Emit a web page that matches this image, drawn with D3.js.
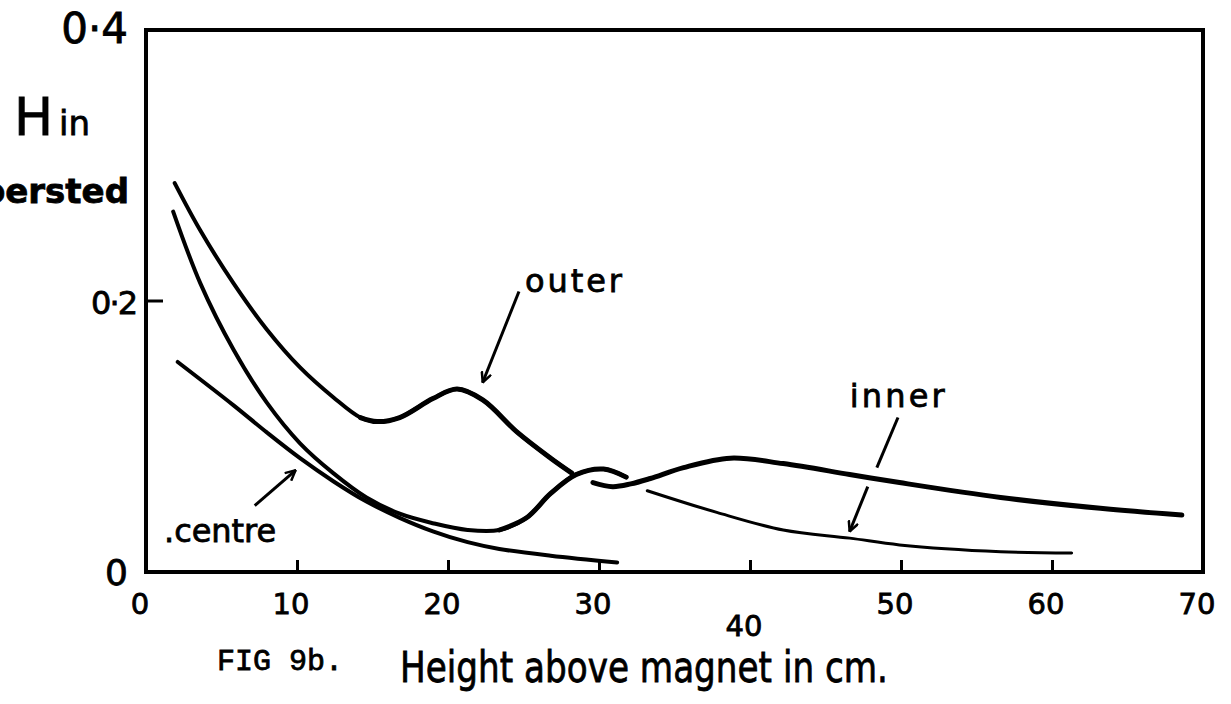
<!DOCTYPE html>
<html>
<head>
<meta charset="utf-8">
<script src="https://cdn.jsdelivr.net/npm/d3@7"></script>
<style>
  body { margin: 0; background: #fff; }
  text { font-family: 'DejaVu Sans', sans-serif; fill: #000; stroke: #000; stroke-width: 0.8px; }
</style>
</head>
<body>
<svg id="chart" width="1231" height="704"></svg>
<script>
// values (x in cm, H in oersted)
const outerX = [1.9, 3.6, 5.8, 8.0, 10.2, 12.4, 14.2, 15.3, 16.8, 19.0, 20.6, 22.3, 24.6, 26.8, 28.2];
const outerH = [0.287, 0.252, 0.213, 0.179, 0.151, 0.129, 0.114, 0.111, 0.114, 0.128, 0.135, 0.127, 0.103, 0.084, 0.073];
const outerTailX = [29.6, 30.9, 32.1, 33.4, 35.6, 38.7, 42.2, 46.6, 49.9, 56.6, 63.2, 68.6];
const outerTailH = [0.066, 0.063, 0.065, 0.069, 0.077, 0.084, 0.080, 0.072, 0.066, 0.055, 0.047, 0.042];
const innerX = [1.8, 3.6, 5.8, 8.0, 10.2, 12.4, 14.6, 16.8, 19.0, 21.3, 23.4, 25.2, 26.8, 28.5, 30.3, 31.8];
const innerH = [0.266, 0.213, 0.164, 0.125, 0.095, 0.073, 0.055, 0.043, 0.036, 0.031, 0.031, 0.040, 0.058, 0.072, 0.076, 0.070];
const innerTailX = [33.2, 37.8, 42.2, 46.6, 49.9, 56.6, 61.3];
const innerTailH = [0.060, 0.044, 0.031, 0.025, 0.020, 0.015, 0.014];
const centreX = [2.1, 5.8, 8.0, 10.2, 12.4, 14.6, 16.8, 19.0, 21.3, 23.4, 26.8, 31.2];
const centreH = [0.155, 0.123, 0.103, 0.084, 0.067, 0.052, 0.040, 0.030, 0.022, 0.017, 0.012, 0.007];

const xTicks = [0, 10, 20, 30, 40, 50, 60, 70];
const yTicks = [0, 0.2, 0.4];
const yTickText = ['0', '0·2', '0·4'];

const svg = d3.select('#chart'),
  x = d3.scaleLinear().domain([0, 70]).range([146, 1203]),
  y = d3.scaleLinear().domain([0, 0.4]).range([572, 30]);

const zip = (xs, hs) => xs.map((v, i) => [v, hs[i]]);
const line = d3.line().x(d => x(d[0])).y(d => y(d[1])).curve(d3.curveCatmullRom.alpha(0.5));

svg.append('defs').append('marker')
  .attr('id', 'arrow')
  .attr('viewBox', '0 0 12 12')
  .attr('refX', 11).attr('refY', 6)
  .attr('markerWidth', 12).attr('markerHeight', 12)
  .attr('markerUnits', 'userSpaceOnUse')
  .attr('orient', 'auto')
  .append('path')
  .attr('d', 'M1,1 L11,6 L1,11')
  .attr('fill', 'none').attr('stroke', '#000').attr('stroke-width', 2.5);

// frame
svg.append('rect')
  .attr('x', x(0)).attr('y', y(0.4))
  .attr('width', x(70) - x(0)).attr('height', y(0) - y(0.4))
  .attr('fill', 'none').attr('stroke', '#000').attr('stroke-width', 4);

// ticks pointing inward
svg.append('g')
  .attr('transform', `translate(0,${y(0)})`)
  .call(d3.axisBottom(x).tickValues([10, 20, 30, 40, 50, 60]).tickSize(-12).tickFormat(''))
  .call(g => g.select('.domain').remove())
  .selectAll('line').attr('stroke-width', 3);
svg.append('line')
  .attr('x1', x(0)).attr('x2', x(0) + 17)
  .attr('y1', y(0.2)).attr('y2', y(0.2))
  .attr('stroke', '#000').attr('stroke-width', 3);

// tick labels
svg.selectAll('.xlab').data(xTicks).enter().append('text')
  .attr('class', 'xlab')
  .attr('x', d => x(d) - 6)
  .attr('y', d => (d === 40 ? 636 : 614))
  .attr('text-anchor', 'middle')
  .style('font-size', '29px')
  .text(d => d);
svg.selectAll('.ylab').data(yTicks).enter().append('text')
  .attr('class', 'ylab')
  .attr('x', d => (d === 0.2 ? 136 : 128))
  .attr('y', d => y(d) + 13)
  .attr('text-anchor', 'end')
  .style('font-size', d => (d === 0.4 ? '42px' : d === 0.2 ? '32px' : '36px'))
  .style('letter-spacing', d => (d === 0.2 ? '-2px' : '0px'))
  .text((d, i) => yTickText[i]);

// axis titles
let ht = svg.append('text').attr('x', 14).attr('y', 135);
ht.append('tspan').style('font-size', '52px').text('H');
ht.append('tspan').attr('dx', 6).style('font-size', '34px').text('in');
svg.append('text')
  .attr('x', 129).attr('y', 203).attr('text-anchor', 'end')
  .style('font-size', '34px').style('font-weight', 'bold')
  .text('oersted');
svg.append('text')
  .attr('x', 400).attr('y', 682)
  .attr('textLength', 488).attr('lengthAdjust', 'spacingAndGlyphs')
  .style('font-size', '42px')
  .text('Height above magnet in cm.');
svg.append('text')
  .attr('x', 217).attr('y', 670)
  .attr('textLength', 126).attr('lengthAdjust', 'spacingAndGlyphs')
  .style('font-family', "'Liberation Mono', monospace")
  .style('font-size', '30px')
  .text('FIG 9b.');

// curves
const curves = [
  { pts: zip(outerX, outerH), w: 4 },
  { pts: zip(outerX, outerH).filter(d => d[0] >= 14.2), w: 5 },
  { pts: zip(outerTailX, outerTailH), w: 5 },
  { pts: zip(innerX, innerH), w: 4 },
  { pts: zip(innerX, innerH).filter(d => d[0] >= 23.4), w: 5 },
  { pts: zip(innerTailX, innerTailH), w: 3 },
  { pts: zip(centreX, centreH), w: 4 }
];
svg.selectAll('.curve').data(curves).enter().append('path')
  .attr('class', 'curve')
  .attr('d', d => line(d.pts))
  .attr('fill', 'none').attr('stroke', '#000')
  .attr('stroke-width', d => d.w)
  .attr('stroke-linecap', 'round');

// labels + arrows
const notes = [
  { t: 'outer', at: [25.1, 0.207], len: 97 },
  { t: 'inner', at: [46.6, 0.122], len: 95 },
  { t: '.centre', at: [1.2, 0.022], len: 112 }
];
svg.selectAll('.note').data(notes).enter().append('text')
  .attr('class', 'note')
  .attr('x', d => x(d.at[0])).attr('y', d => y(d.at[1]))
  .attr('textLength', d => d.len)
  .style('font-size', '32px')
  .text(d => d.t);

const arrows = [
  { from: [24.7, 0.207], to: [22.3, 0.140], head: true },
  { from: [7.2, 0.049], to: [9.9, 0.075], head: true },
  { from: [49.8, 0.114], to: [48.4, 0.077], head: false },
  { from: [47.8, 0.063], to: [46.6, 0.030], head: true }
];
svg.selectAll('.arrow').data(arrows).enter().append('line')
  .attr('class', 'arrow')
  .attr('x1', d => x(d.from[0])).attr('y1', d => y(d.from[1]))
  .attr('x2', d => x(d.to[0])).attr('y2', d => y(d.to[1]))
  .attr('stroke', '#000').attr('stroke-width', 3)
  .attr('marker-end', d => (d.head ? 'url(#arrow)' : null));
</script>
</body>
</html>
